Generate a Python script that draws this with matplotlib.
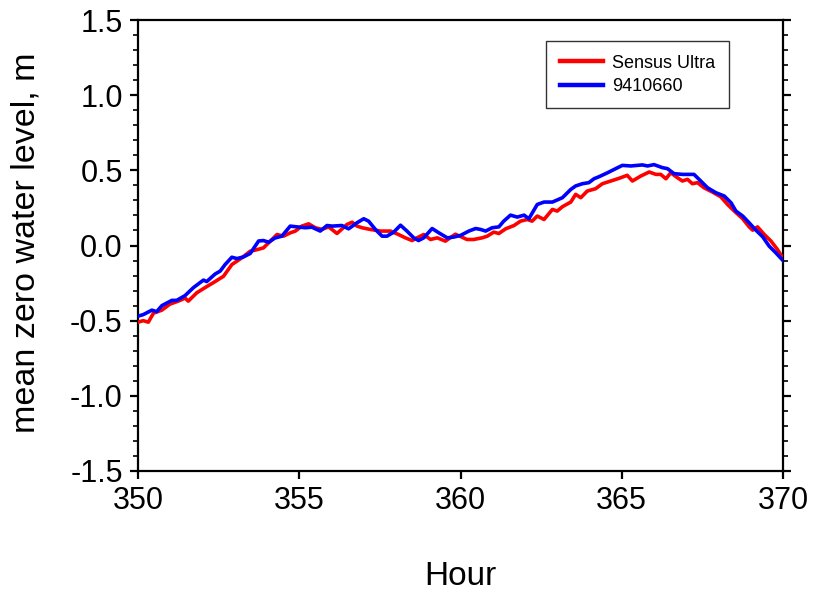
import matplotlib
matplotlib.use("Agg")
import matplotlib.pyplot as plt
from matplotlib.ticker import MultipleLocator

plt.rcParams['font.family'] = ['Liberation Sans', 'DejaVu Sans']

# Sensus Ultra logger record (hour, mean-zero water level in m)
sensus_hour = [350.00, 350.16, 350.32, 350.48, 350.74, 350.99, 351.25, 351.46, 351.56, 351.82,
               352.08, 352.39, 352.65, 352.91, 353.22, 353.48, 353.63, 353.89, 354.05, 354.31,
               354.51, 354.72, 354.88, 355.08, 355.29, 355.50, 355.70, 355.91, 356.17, 356.48,
               356.64, 356.79, 356.95, 357.20, 357.52, 357.83, 358.08, 358.29, 358.50, 358.65,
               358.86, 359.07, 359.28, 359.53, 359.84, 360.05, 360.20, 360.41, 360.67, 360.83,
               361.03, 361.19, 361.40, 361.66, 361.86, 362.07, 362.22, 362.38, 362.59, 362.85,
               363.00, 363.16, 363.42, 363.57, 363.73, 363.93, 364.19, 364.40, 364.66, 364.92,
               365.17, 365.33, 365.59, 365.85, 366.06, 366.21, 366.37, 366.52, 366.68, 366.88,
               367.04, 367.19, 367.35, 367.55, 367.81, 368.07, 368.28, 368.49, 368.75, 368.95,
               369.06, 369.21, 369.42, 369.63, 369.83, 370.00]
sensus_level = [-0.51, -0.50, -0.51, -0.45, -0.43, -0.39, -0.37, -0.35, -0.37, -0.315,
                -0.28, -0.24, -0.205, -0.127, -0.082, -0.038, -0.031, -0.016, 0.018, 0.073,
                0.062, 0.084, 0.096, 0.129, 0.144, 0.118, 0.107, 0.124, 0.080, 0.140,
                0.155, 0.129, 0.118, 0.107, 0.096, 0.096, 0.073, 0.051, 0.033, 0.051,
                0.073, 0.040, 0.051, 0.029, 0.075, 0.055, 0.040, 0.040, 0.051, 0.062,
                0.089, 0.080, 0.111, 0.133, 0.162, 0.173, 0.162, 0.196, 0.173, 0.240,
                0.229, 0.258, 0.289, 0.340, 0.318, 0.362, 0.378, 0.411, 0.429, 0.447,
                0.467, 0.429, 0.462, 0.489, 0.473, 0.473, 0.444, 0.484, 0.458, 0.429,
                0.440, 0.411, 0.418, 0.384, 0.356, 0.324, 0.273, 0.229, 0.178, 0.124,
                0.102, 0.124, 0.073, 0.029, -0.027, -0.085]

# Tide station 9410660 record (hour, mean-zero water level in m)
station_hour = [350.00, 350.16, 350.43, 350.58, 350.74, 351.05, 351.20, 351.46, 351.72, 352.03,
                352.13, 352.39, 352.55, 352.70, 352.91, 353.07, 353.27, 353.48, 353.74, 353.89,
                354.05, 354.25, 354.46, 354.72, 354.93, 355.19, 355.39, 355.65, 355.86, 356.02,
                356.32, 356.53, 356.79, 357.00, 357.15, 357.36, 357.57, 357.72, 357.93, 358.14,
                358.34, 358.55, 358.70, 358.86, 359.12, 359.33, 359.59, 359.79, 360.00, 360.26,
                360.47, 360.62, 360.78, 360.98, 361.19, 361.34, 361.55, 361.76, 361.97, 362.12,
                362.38, 362.59, 362.85, 363.16, 363.42, 363.57, 363.78, 363.98, 364.14, 364.30,
                364.56, 364.81, 365.02, 365.28, 365.64, 365.80, 366.00, 366.26, 366.42, 366.62,
                366.88, 367.24, 367.45, 367.66, 367.92, 368.18, 368.39, 368.54, 368.75, 368.95,
                369.16, 369.37, 369.57, 369.78, 370.00]
station_level = [-0.47, -0.46, -0.43, -0.44, -0.40, -0.365, -0.365, -0.333, -0.28, -0.23,
                 -0.24, -0.19, -0.17, -0.127, -0.078, -0.087, -0.076, -0.053, 0.030, 0.033,
                 0.022, 0.050, 0.062, 0.129, 0.124, 0.118, 0.122, 0.096, 0.133, 0.129,
                 0.133, 0.111, 0.151, 0.178, 0.162, 0.107, 0.062, 0.062, 0.089, 0.135,
                 0.096, 0.051, 0.033, 0.051, 0.113, 0.084, 0.051, 0.056, 0.067, 0.096,
                 0.113, 0.107, 0.096, 0.118, 0.124, 0.162, 0.202, 0.189, 0.202, 0.178,
                 0.273, 0.289, 0.289, 0.318, 0.373, 0.396, 0.411, 0.418, 0.444, 0.458,
                 0.484, 0.511, 0.533, 0.529, 0.536, 0.529, 0.538, 0.518, 0.511, 0.478,
                 0.473, 0.473, 0.429, 0.384, 0.351, 0.329, 0.284, 0.229, 0.196, 0.151,
                 0.102, 0.058, -0.004, -0.049, -0.10]

x_ticks = [350, 355, 360, 365, 370]
y_ticks = [-1.5, -1.0, -0.5, 0.0, 0.5, 1.0, 1.5]

W, H = 815, 599
fig = plt.figure(figsize=(W / 100, H / 100), dpi=100)
ax = fig.add_axes([138 / W, 1 - 471 / H, (783 - 138) / W, (471 - 20) / H])

ax.plot(sensus_hour, sensus_level, color='#ff0000', lw=2.6, label='Sensus Ultra', zorder=3)
ax.plot(station_hour, station_level, color='#0000ff', lw=2.6, label='9410660', zorder=4)

ax.set_xlim(350, 370)
ax.set_ylim(-1.5, 1.5)
ax.set_xticks(x_ticks)
ax.set_yticks(y_ticks)
ax.set_xticklabels([f"{v:d}" for v in x_ticks])
ax.set_yticklabels([f"{v:.1f}" for v in y_ticks])
ax.yaxis.set_minor_locator(MultipleLocator(0.1))

for s in ax.spines.values():
    s.set_linewidth(1.6)

ax.tick_params(axis='both', which='major', direction='out', length=6, width=1.6,
               labelsize=22, pad=5)
ax.tick_params(axis='y', which='both', left=True, right=True)
ax.tick_params(axis='y', which='minor', direction='out', length=3.5, width=1.2)
ax.tick_params(axis='x', which='both', top=False)

ax.set_xlabel('Hour', fontsize=24)
ax.set_ylabel('mean zero water level, m', fontsize=24.5)
ax.xaxis.set_label_coords(0.5, -(561 - 471) / 451)
ax.yaxis.set_label_coords(-(138 - 42) / 645, 0.505)

leg = ax.legend(loc='upper left', bbox_to_anchor=(546 / W, 1 - 41 / H),
                bbox_transform=fig.transFigure, fontsize=13, frameon=True,
                fancybox=False, edgecolor='black', handlelength=2.4,
                handletextpad=0.5, labelspacing=0.35, borderpad=0.75,
                borderaxespad=0.0)
leg.get_frame().set_linewidth(1.0)
for line in leg.get_lines():
    line.set_linewidth(3.2)

fig.savefig('out.png', dpi=100)
